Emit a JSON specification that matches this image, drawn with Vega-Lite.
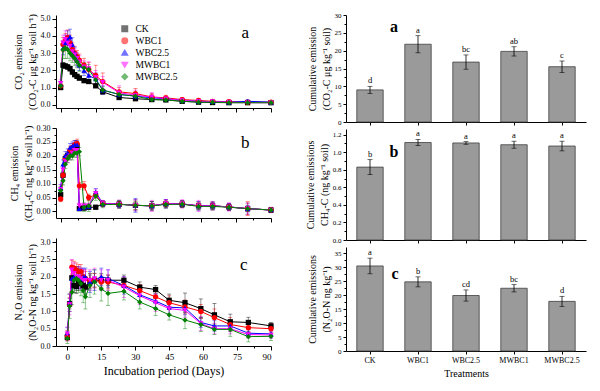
{
  "$schema": "https://vega.github.io/schema/vega-lite/v6.json",
  "background": "white",
  "padding": {"left": 9, "top": 11, "right": 5, "bottom": 5},
  "config": {
    "view": {"stroke": null},
    "font": "Liberation Serif",
    "axis": {"domainColor": "#000", "tickColor": "#000", "labelColor": "#000", "titleColor": "#000", "grid": false, "labelFont": "Liberation Serif", "titleFont": "Liberation Serif", "titleFontWeight": "normal", "labelFontSize": 8, "titleFontSize": 10, "titleLineHeight": 14, "tickSize": 3, "labelPadding": 2, "titlePadding": 3, "domainWidth": 1, "tickWidth": 1},
    "legend": {"labelFont": "Liberation Serif", "labelFontSize": 9.5, "labelColor": "#000", "symbolSize": 30, "rowPadding": 0, "padding": 0, "labelOffset": 6},
    "text": {"font": "Liberation Serif", "color": "#000", "fill": "#000"}
  },
  "datasets": {
    "co2": [
      {"t":"CK","d":0,"v":1.0,"e":0.1},{"t":"CK","d":1,"v":2.3,"e":0.15},{"t":"CK","d":2,"v":2.25,"e":0.15},{"t":"CK","d":3,"v":2.2,"e":0.15},{"t":"CK","d":4,"v":2.1,"e":0.15},{"t":"CK","d":5,"v":1.9,"e":0.15},{"t":"CK","d":6,"v":1.75,"e":0.12},{"t":"CK","d":7,"v":1.65,"e":0.12},{"t":"CK","d":8,"v":1.55,"e":0.12},{"t":"CK","d":10,"v":1.4,"e":0.1},{"t":"CK","d":12,"v":1.35,"e":0.1},{"t":"CK","d":15,"v":1.1,"e":0.1},{"t":"CK","d":18,"v":0.75,"e":0.08},{"t":"CK","d":25,"v":0.42,"e":0.06},{"t":"CK","d":32,"v":0.35,"e":0.05},{"t":"CK","d":39,"v":0.3,"e":0.05},{"t":"CK","d":45,"v":0.28,"e":0.04},{"t":"CK","d":52,"v":0.2,"e":0.04},{"t":"CK","d":59,"v":0.15,"e":0.03},{"t":"CK","d":65,"v":0.13,"e":0.03},{"t":"CK","d":72,"v":0.12,"e":0.03},{"t":"CK","d":80,"v":0.12,"e":0.03},{"t":"CK","d":90,"v":0.12,"e":0.03},
      {"t":"WBC1","d":0,"v":1.1,"e":0.15},{"t":"WBC1","d":1,"v":3.5,"e":0.4},{"t":"WBC1","d":2,"v":3.7,"e":0.45},{"t":"WBC1","d":3,"v":3.9,"e":0.45},{"t":"WBC1","d":4,"v":3.6,"e":0.45},{"t":"WBC1","d":5,"v":3.2,"e":0.4},{"t":"WBC1","d":6,"v":3.0,"e":0.4},{"t":"WBC1","d":7,"v":2.8,"e":0.35},{"t":"WBC1","d":8,"v":2.6,"e":0.35},{"t":"WBC1","d":10,"v":2.3,"e":0.4},{"t":"WBC1","d":12,"v":2.05,"e":0.4},{"t":"WBC1","d":15,"v":1.7,"e":0.6},{"t":"WBC1","d":18,"v":1.35,"e":0.5},{"t":"WBC1","d":25,"v":0.75,"e":0.25},{"t":"WBC1","d":32,"v":0.65,"e":0.3},{"t":"WBC1","d":39,"v":0.45,"e":0.2},{"t":"WBC1","d":45,"v":0.4,"e":0.15},{"t":"WBC1","d":52,"v":0.3,"e":0.12},{"t":"WBC1","d":59,"v":0.25,"e":0.1},{"t":"WBC1","d":65,"v":0.2,"e":0.08},{"t":"WBC1","d":72,"v":0.18,"e":0.08},{"t":"WBC1","d":80,"v":0.15,"e":0.08},{"t":"WBC1","d":90,"v":0.15,"e":0.06},
      {"t":"WBC2.5","d":0,"v":1.2,"e":0.15},{"t":"WBC2.5","d":1,"v":3.3,"e":0.4},{"t":"WBC2.5","d":2,"v":3.6,"e":0.45},{"t":"WBC2.5","d":3,"v":3.8,"e":0.5},{"t":"WBC2.5","d":4,"v":3.95,"e":0.45},{"t":"WBC2.5","d":5,"v":3.5,"e":0.4},{"t":"WBC2.5","d":6,"v":3.0,"e":0.35},{"t":"WBC2.5","d":7,"v":2.6,"e":0.35},{"t":"WBC2.5","d":8,"v":2.3,"e":0.3},{"t":"WBC2.5","d":10,"v":2.0,"e":0.3},{"t":"WBC2.5","d":12,"v":1.7,"e":0.3},{"t":"WBC2.5","d":15,"v":1.5,"e":0.35},{"t":"WBC2.5","d":18,"v":0.85,"e":0.25},{"t":"WBC2.5","d":25,"v":0.6,"e":0.2},{"t":"WBC2.5","d":32,"v":0.5,"e":0.15},{"t":"WBC2.5","d":39,"v":0.4,"e":0.12},{"t":"WBC2.5","d":45,"v":0.35,"e":0.12},{"t":"WBC2.5","d":52,"v":0.25,"e":0.1},{"t":"WBC2.5","d":59,"v":0.2,"e":0.08},{"t":"WBC2.5","d":65,"v":0.18,"e":0.08},{"t":"WBC2.5","d":72,"v":0.15,"e":0.06},{"t":"WBC2.5","d":80,"v":0.2,"e":0.1},{"t":"WBC2.5","d":90,"v":0.15,"e":0.1},
      {"t":"MWBC1","d":0,"v":1.25,"e":0.2},{"t":"MWBC1","d":1,"v":3.6,"e":0.45},{"t":"MWBC1","d":2,"v":3.8,"e":0.5},{"t":"MWBC1","d":3,"v":3.6,"e":0.45},{"t":"MWBC1","d":4,"v":3.4,"e":0.4},{"t":"MWBC1","d":5,"v":3.1,"e":0.4},{"t":"MWBC1","d":6,"v":2.9,"e":0.35},{"t":"MWBC1","d":7,"v":2.7,"e":0.35},{"t":"MWBC1","d":8,"v":2.5,"e":0.35},{"t":"MWBC1","d":10,"v":2.2,"e":0.35},{"t":"MWBC1","d":12,"v":2.1,"e":0.4},{"t":"MWBC1","d":15,"v":1.6,"e":0.4},{"t":"MWBC1","d":18,"v":1.3,"e":0.35},{"t":"MWBC1","d":25,"v":0.7,"e":0.4},{"t":"MWBC1","d":32,"v":0.55,"e":0.3},{"t":"MWBC1","d":39,"v":0.45,"e":0.25},{"t":"MWBC1","d":45,"v":0.35,"e":0.15},{"t":"MWBC1","d":52,"v":0.25,"e":0.15},{"t":"MWBC1","d":59,"v":0.2,"e":0.1},{"t":"MWBC1","d":65,"v":0.18,"e":0.08},{"t":"MWBC1","d":72,"v":0.15,"e":0.06},{"t":"MWBC1","d":80,"v":0.12,"e":0.05},{"t":"MWBC1","d":90,"v":0.12,"e":0.05},
      {"t":"MWBC2.5","d":0,"v":1.1,"e":0.2},{"t":"MWBC2.5","d":1,"v":3.2,"e":0.5},{"t":"MWBC2.5","d":2,"v":3.3,"e":0.6},{"t":"MWBC2.5","d":3,"v":3.2,"e":0.5},{"t":"MWBC2.5","d":4,"v":3.0,"e":0.45},{"t":"MWBC2.5","d":5,"v":2.85,"e":0.4},{"t":"MWBC2.5","d":6,"v":2.7,"e":0.4},{"t":"MWBC2.5","d":7,"v":2.5,"e":0.35},{"t":"MWBC2.5","d":8,"v":2.3,"e":0.35},{"t":"MWBC2.5","d":10,"v":2.15,"e":0.3},{"t":"MWBC2.5","d":12,"v":2.05,"e":0.3},{"t":"MWBC2.5","d":15,"v":1.45,"e":0.3},{"t":"MWBC2.5","d":18,"v":0.85,"e":0.2},{"t":"MWBC2.5","d":25,"v":0.6,"e":0.2},{"t":"MWBC2.5","d":32,"v":0.5,"e":0.15},{"t":"MWBC2.5","d":39,"v":0.3,"e":0.1},{"t":"MWBC2.5","d":45,"v":0.28,"e":0.1},{"t":"MWBC2.5","d":52,"v":0.2,"e":0.08},{"t":"MWBC2.5","d":59,"v":0.15,"e":0.06},{"t":"MWBC2.5","d":65,"v":0.15,"e":0.06},{"t":"MWBC2.5","d":72,"v":0.12,"e":0.05},{"t":"MWBC2.5","d":80,"v":0.12,"e":0.05},{"t":"MWBC2.5","d":90,"v":0.12,"e":0.05}
    ],
    "ch4": [
      {"t":"CK","d":0,"v":0.06,"e":0.015},{"t":"CK","d":1,"v":0.13,"e":0.015},{"t":"CK","d":2,"v":0.19,"e":0.012},{"t":"CK","d":3,"v":0.2,"e":0.012},{"t":"CK","d":4,"v":0.21,"e":0.012},{"t":"CK","d":5,"v":0.22,"e":0.012},{"t":"CK","d":6,"v":0.23,"e":0.012},{"t":"CK","d":7,"v":0.235,"e":0.012},{"t":"CK","d":8,"v":0.01,"e":0.005},{"t":"CK","d":10,"v":0.012,"e":0.005},{"t":"CK","d":12,"v":0.015,"e":0.006},{"t":"CK","d":15,"v":0.015,"e":0.005},{"t":"CK","d":18,"v":0.028,"e":0.01},{"t":"CK","d":25,"v":0.026,"e":0.012},{"t":"CK","d":32,"v":0.022,"e":0.02},{"t":"CK","d":39,"v":0.02,"e":0.015},{"t":"CK","d":45,"v":0.027,"e":0.015},{"t":"CK","d":52,"v":0.026,"e":0.012},{"t":"CK","d":59,"v":0.02,"e":0.015},{"t":"CK","d":65,"v":0.02,"e":0.015},{"t":"CK","d":72,"v":0.016,"e":0.012},{"t":"CK","d":80,"v":0.01,"e":0.02},{"t":"CK","d":90,"v":0.005,"e":0.008},
      {"t":"WBC1","d":0,"v":0.045,"e":0.01},{"t":"WBC1","d":1,"v":0.13,"e":0.015},{"t":"WBC1","d":2,"v":0.19,"e":0.015},{"t":"WBC1","d":3,"v":0.2,"e":0.015},{"t":"WBC1","d":4,"v":0.22,"e":0.015},{"t":"WBC1","d":5,"v":0.23,"e":0.015},{"t":"WBC1","d":6,"v":0.24,"e":0.015},{"t":"WBC1","d":7,"v":0.245,"e":0.015},{"t":"WBC1","d":8,"v":0.092,"e":0.012},{"t":"WBC1","d":10,"v":0.092,"e":0.015},{"t":"WBC1","d":12,"v":0.05,"e":0.012},{"t":"WBC1","d":15,"v":0.06,"e":0.012},{"t":"WBC1","d":18,"v":0.028,"e":0.01},{"t":"WBC1","d":25,"v":0.026,"e":0.01},{"t":"WBC1","d":32,"v":0.022,"e":0.015},{"t":"WBC1","d":39,"v":0.02,"e":0.015},{"t":"WBC1","d":45,"v":0.028,"e":0.012},{"t":"WBC1","d":52,"v":0.027,"e":0.012},{"t":"WBC1","d":59,"v":0.02,"e":0.012},{"t":"WBC1","d":65,"v":0.02,"e":0.012},{"t":"WBC1","d":72,"v":0.016,"e":0.012},{"t":"WBC1","d":80,"v":0.01,"e":0.025},{"t":"WBC1","d":90,"v":0.005,"e":0.008},
      {"t":"WBC2.5","d":0,"v":0.085,"e":0.012},{"t":"WBC2.5","d":1,"v":0.17,"e":0.015},{"t":"WBC2.5","d":2,"v":0.2,"e":0.015},{"t":"WBC2.5","d":3,"v":0.21,"e":0.015},{"t":"WBC2.5","d":4,"v":0.23,"e":0.015},{"t":"WBC2.5","d":5,"v":0.235,"e":0.015},{"t":"WBC2.5","d":6,"v":0.24,"e":0.015},{"t":"WBC2.5","d":7,"v":0.24,"e":0.015},{"t":"WBC2.5","d":8,"v":0.01,"e":0.006},{"t":"WBC2.5","d":10,"v":0.015,"e":0.006},{"t":"WBC2.5","d":12,"v":0.018,"e":0.008},{"t":"WBC2.5","d":15,"v":0.07,"e":0.012},{"t":"WBC2.5","d":18,"v":0.028,"e":0.01},{"t":"WBC2.5","d":25,"v":0.026,"e":0.012},{"t":"WBC2.5","d":32,"v":0.022,"e":0.025},{"t":"WBC2.5","d":39,"v":0.02,"e":0.015},{"t":"WBC2.5","d":45,"v":0.028,"e":0.015},{"t":"WBC2.5","d":52,"v":0.027,"e":0.012},{"t":"WBC2.5","d":59,"v":0.02,"e":0.015},{"t":"WBC2.5","d":65,"v":0.02,"e":0.012},{"t":"WBC2.5","d":72,"v":0.016,"e":0.012},{"t":"WBC2.5","d":80,"v":0.01,"e":0.012},{"t":"WBC2.5","d":90,"v":0.005,"e":0.008},
      {"t":"MWBC1","d":0,"v":0.08,"e":0.015},{"t":"MWBC1","d":1,"v":0.15,"e":0.015},{"t":"MWBC1","d":2,"v":0.18,"e":0.015},{"t":"MWBC1","d":3,"v":0.19,"e":0.015},{"t":"MWBC1","d":4,"v":0.2,"e":0.015},{"t":"MWBC1","d":5,"v":0.21,"e":0.015},{"t":"MWBC1","d":6,"v":0.22,"e":0.015},{"t":"MWBC1","d":7,"v":0.22,"e":0.015},{"t":"MWBC1","d":8,"v":0.02,"e":0.01},{"t":"MWBC1","d":10,"v":0.02,"e":0.01},{"t":"MWBC1","d":12,"v":0.02,"e":0.01},{"t":"MWBC1","d":15,"v":0.065,"e":0.015},{"t":"MWBC1","d":18,"v":0.028,"e":0.012},{"t":"MWBC1","d":25,"v":0.026,"e":0.015},{"t":"MWBC1","d":32,"v":0.022,"e":0.02},{"t":"MWBC1","d":39,"v":0.02,"e":0.02},{"t":"MWBC1","d":45,"v":0.028,"e":0.015},{"t":"MWBC1","d":52,"v":0.027,"e":0.015},{"t":"MWBC1","d":59,"v":0.02,"e":0.02},{"t":"MWBC1","d":65,"v":0.02,"e":0.015},{"t":"MWBC1","d":72,"v":0.016,"e":0.015},{"t":"MWBC1","d":80,"v":0.01,"e":0.02},{"t":"MWBC1","d":90,"v":0.005,"e":0.01},
      {"t":"MWBC2.5","d":0,"v":0.075,"e":0.015},{"t":"MWBC2.5","d":1,"v":0.11,"e":0.015},{"t":"MWBC2.5","d":2,"v":0.17,"e":0.015},{"t":"MWBC2.5","d":3,"v":0.19,"e":0.015},{"t":"MWBC2.5","d":4,"v":0.2,"e":0.015},{"t":"MWBC2.5","d":5,"v":0.2,"e":0.015},{"t":"MWBC2.5","d":6,"v":0.21,"e":0.015},{"t":"MWBC2.5","d":7,"v":0.21,"e":0.015},{"t":"MWBC2.5","d":8,"v":0.215,"e":0.015},{"t":"MWBC2.5","d":10,"v":0.015,"e":0.015},{"t":"MWBC2.5","d":12,"v":0.02,"e":0.02},{"t":"MWBC2.5","d":15,"v":0.055,"e":0.015},{"t":"MWBC2.5","d":18,"v":0.025,"e":0.012},{"t":"MWBC2.5","d":25,"v":0.025,"e":0.015},{"t":"MWBC2.5","d":32,"v":0.022,"e":0.015},{"t":"MWBC2.5","d":39,"v":0.02,"e":0.015},{"t":"MWBC2.5","d":45,"v":0.025,"e":0.012},{"t":"MWBC2.5","d":52,"v":0.026,"e":0.012},{"t":"MWBC2.5","d":59,"v":0.018,"e":0.012},{"t":"MWBC2.5","d":65,"v":0.018,"e":0.012},{"t":"MWBC2.5","d":72,"v":0.015,"e":0.01},{"t":"MWBC2.5","d":80,"v":0.01,"e":0.01},{"t":"MWBC2.5","d":90,"v":0.005,"e":0.008}
    ],
    "n2o": [
      {"t":"CK","d":0,"v":0.25,"e":0.1},{"t":"CK","d":1,"v":1.22,"e":0.15},{"t":"CK","d":2,"v":1.97,"e":0.2},{"t":"CK","d":3,"v":1.75,"e":0.2},{"t":"CK","d":4,"v":1.72,"e":0.2},{"t":"CK","d":5,"v":1.8,"e":0.2},{"t":"CK","d":6,"v":1.85,"e":0.2},{"t":"CK","d":7,"v":1.75,"e":0.2},{"t":"CK","d":8,"v":1.7,"e":0.2},{"t":"CK","d":10,"v":1.85,"e":0.2},{"t":"CK","d":12,"v":1.9,"e":0.2},{"t":"CK","d":15,"v":1.9,"e":0.2},{"t":"CK","d":18,"v":1.9,"e":0.15},{"t":"CK","d":25,"v":1.9,"e":0.15},{"t":"CK","d":32,"v":1.7,"e":0.15},{"t":"CK","d":39,"v":1.63,"e":0.12},{"t":"CK","d":45,"v":1.32,"e":0.18},{"t":"CK","d":52,"v":1.25,"e":0.28},{"t":"CK","d":59,"v":1.08,"e":0.28},{"t":"CK","d":65,"v":0.9,"e":0.33},{"t":"CK","d":72,"v":0.7,"e":0.22},{"t":"CK","d":80,"v":0.68,"e":0.15},{"t":"CK","d":90,"v":0.58,"e":0.1},
      {"t":"WBC1","d":0,"v":0.3,"e":0.15},{"t":"WBC1","d":1,"v":1.2,"e":0.2},{"t":"WBC1","d":2,"v":2.28,"e":0.2},{"t":"WBC1","d":3,"v":2.25,"e":0.2},{"t":"WBC1","d":4,"v":2.2,"e":0.2},{"t":"WBC1","d":5,"v":2.15,"e":0.2},{"t":"WBC1","d":6,"v":2.15,"e":0.2},{"t":"WBC1","d":7,"v":2.0,"e":0.2},{"t":"WBC1","d":8,"v":1.95,"e":0.2},{"t":"WBC1","d":10,"v":1.9,"e":0.2},{"t":"WBC1","d":12,"v":1.9,"e":0.2},{"t":"WBC1","d":15,"v":1.85,"e":0.2},{"t":"WBC1","d":18,"v":1.85,"e":0.2},{"t":"WBC1","d":25,"v":1.75,"e":0.15},{"t":"WBC1","d":32,"v":1.6,"e":0.18},{"t":"WBC1","d":39,"v":1.42,"e":0.2},{"t":"WBC1","d":45,"v":1.25,"e":0.2},{"t":"WBC1","d":52,"v":1.13,"e":0.2},{"t":"WBC1","d":59,"v":1.0,"e":0.2},{"t":"WBC1","d":65,"v":0.82,"e":0.25},{"t":"WBC1","d":72,"v":0.62,"e":0.2},{"t":"WBC1","d":80,"v":0.53,"e":0.15},{"t":"WBC1","d":90,"v":0.5,"e":0.15},
      {"t":"WBC2.5","d":0,"v":0.38,"e":0.15},{"t":"WBC2.5","d":1,"v":1.25,"e":0.25},{"t":"WBC2.5","d":2,"v":1.95,"e":0.3},{"t":"WBC2.5","d":3,"v":2.0,"e":0.3},{"t":"WBC2.5","d":4,"v":1.95,"e":0.3},{"t":"WBC2.5","d":5,"v":2.0,"e":0.3},{"t":"WBC2.5","d":6,"v":1.95,"e":0.3},{"t":"WBC2.5","d":7,"v":2.0,"e":0.25},{"t":"WBC2.5","d":8,"v":2.0,"e":0.25},{"t":"WBC2.5","d":10,"v":1.85,"e":0.3},{"t":"WBC2.5","d":12,"v":1.9,"e":0.3},{"t":"WBC2.5","d":15,"v":2.0,"e":0.25},{"t":"WBC2.5","d":18,"v":1.95,"e":0.25},{"t":"WBC2.5","d":25,"v":1.75,"e":0.25},{"t":"WBC2.5","d":32,"v":1.48,"e":0.2},{"t":"WBC2.5","d":39,"v":1.3,"e":0.2},{"t":"WBC2.5","d":45,"v":1.12,"e":0.2},{"t":"WBC2.5","d":52,"v":1.1,"e":0.2},{"t":"WBC2.5","d":59,"v":0.68,"e":0.15},{"t":"WBC2.5","d":65,"v":0.58,"e":0.15},{"t":"WBC2.5","d":72,"v":0.58,"e":0.15},{"t":"WBC2.5","d":80,"v":0.37,"e":0.1},{"t":"WBC2.5","d":90,"v":0.35,"e":0.1},
      {"t":"MWBC1","d":0,"v":0.35,"e":0.2},{"t":"MWBC1","d":1,"v":1.2,"e":0.3},{"t":"MWBC1","d":2,"v":2.2,"e":0.3},{"t":"MWBC1","d":3,"v":2.1,"e":0.3},{"t":"MWBC1","d":4,"v":2.0,"e":0.3},{"t":"MWBC1","d":5,"v":2.0,"e":0.3},{"t":"MWBC1","d":6,"v":1.95,"e":0.3},{"t":"MWBC1","d":7,"v":1.9,"e":0.3},{"t":"MWBC1","d":8,"v":1.9,"e":0.3},{"t":"MWBC1","d":10,"v":1.9,"e":0.3},{"t":"MWBC1","d":12,"v":1.95,"e":0.3},{"t":"MWBC1","d":15,"v":1.9,"e":0.3},{"t":"MWBC1","d":18,"v":1.9,"e":0.3},{"t":"MWBC1","d":25,"v":1.7,"e":0.3},{"t":"MWBC1","d":32,"v":1.45,"e":0.25},{"t":"MWBC1","d":39,"v":1.25,"e":0.25},{"t":"MWBC1","d":45,"v":1.08,"e":0.2},{"t":"MWBC1","d":52,"v":1.03,"e":0.2},{"t":"MWBC1","d":59,"v":0.65,"e":0.2},{"t":"MWBC1","d":65,"v":0.5,"e":0.15},{"t":"MWBC1","d":72,"v":0.5,"e":0.15},{"t":"MWBC1","d":80,"v":0.33,"e":0.1},{"t":"MWBC1","d":90,"v":0.32,"e":0.1},
      {"t":"MWBC2.5","d":0,"v":0.22,"e":0.15},{"t":"MWBC2.5","d":1,"v":1.15,"e":0.35},{"t":"MWBC2.5","d":2,"v":1.55,"e":0.35},{"t":"MWBC2.5","d":3,"v":1.9,"e":0.35},{"t":"MWBC2.5","d":4,"v":1.95,"e":0.35},{"t":"MWBC2.5","d":5,"v":1.9,"e":0.35},{"t":"MWBC2.5","d":6,"v":1.8,"e":0.35},{"t":"MWBC2.5","d":7,"v":1.6,"e":0.35},{"t":"MWBC2.5","d":8,"v":1.42,"e":0.35},{"t":"MWBC2.5","d":10,"v":1.75,"e":0.35},{"t":"MWBC2.5","d":12,"v":1.85,"e":0.35},{"t":"MWBC2.5","d":15,"v":1.65,"e":0.35},{"t":"MWBC2.5","d":18,"v":1.52,"e":0.35},{"t":"MWBC2.5","d":25,"v":1.58,"e":0.25},{"t":"MWBC2.5","d":32,"v":1.27,"e":0.2},{"t":"MWBC2.5","d":39,"v":1.08,"e":0.2},{"t":"MWBC2.5","d":45,"v":0.9,"e":0.15},{"t":"MWBC2.5","d":52,"v":0.75,"e":0.25},{"t":"MWBC2.5","d":59,"v":0.62,"e":0.2},{"t":"MWBC2.5","d":65,"v":0.48,"e":0.15},{"t":"MWBC2.5","d":72,"v":0.48,"e":0.2},{"t":"MWBC2.5","d":80,"v":0.27,"e":0.15},{"t":"MWBC2.5","d":90,"v":0.28,"e":0.12}
    ],
    "bco2": [
      {"t":"CK","v":9.0,"e":1.0,"l":"d"},{"t":"WBC1","v":21.8,"e":2.4,"l":"a"},{"t":"WBC2.5","v":16.8,"e":2.0,"l":"bc"},{"t":"MWBC1","v":19.8,"e":1.3,"l":"ab"},{"t":"MWBC2.5","v":15.5,"e":1.6,"l":"c"}
    ],
    "bch4": [
      {"t":"CK","v":0.83,"e":0.085,"l":"b"},{"t":"WBC1","v":1.11,"e":0.035,"l":"a"},{"t":"WBC2.5","v":1.105,"e":0.015,"l":"a"},{"t":"MWBC1","v":1.085,"e":0.04,"l":"a"},{"t":"MWBC2.5","v":1.07,"e":0.055,"l":"a"}
    ],
    "bn2o": [
      {"t":"CK","v":30.5,"e":2.8,"l":"a"},{"t":"WBC1","v":24.8,"e":1.8,"l":"b"},{"t":"WBC2.5","v":19.9,"e":2.0,"l":"cd"},{"t":"MWBC1","v":22.5,"e":1.3,"l":"bc"},{"t":"MWBC2.5","v":17.8,"e":1.8,"l":"d"}
    ]
  },
  "resolve": {"scale": {"color": "independent", "shape": "independent"}, "legend": {"color": "independent", "shape": "independent"}},
  "spacing": 31,
  "hconcat": [
    {
      "vconcat": [
        {
          "width": 215, "height": 93,
          "data": {"name": "co2"},
          "encoding": {
            "x": {"field": "d", "type": "quantitative", "scale": {"domain": [-2, 90], "nice": false, "zero": false}, "axis": {"values": [0,7.5,15,22.5,30,37.5,45,52.5,60,67.5,75,82.5,90], "labels": false, "title": null, "tickSize": {"condition": {"test": "datum.value % 15 !== 0", "value": 2}, "value": 4}}},
            "y": {"field": "v", "type": "quantitative", "scale": {"domain": [-0.19, 5.22], "nice": false, "zero": false}, "axis": {"values": [0,0.5,1,1.5,2,2.5,3,3.5,4,4.5,5], "labelExpr": "datum.value % 1 === 0 ? datum.label : ''", "tickSize": {"condition": {"test": "datum.value % 1 !== 0", "value": 2}, "value": 4}, "title": ["CO₂ emission", "(CO₂-C μg kg⁻¹ soil h⁻¹)"]}},
            "color": {"field": "t", "type": "nominal", "scale": {"domain": ["CK","WBC1","WBC2.5","MWBC1","MWBC2.5"], "range": ["#000000","#ff0000","#0000ff","#ff00ff","#008000"]}, "legend": {"orient": "none", "legendX": 64, "legendY": 9, "title": null}}
          },
          "layer": [
            {"mark": {"type": "errorbar", "ticks": true, "size": 4, "thickness": 0.8, "opacity": 0.55}, "encoding": {"yError": {"field": "e"}}},
            {"mark": {"type": "line", "strokeWidth": 1}},
            {"mark": {"type": "point", "filled": true, "size": 28, "opacity": 1}, "encoding": {"shape": {"field": "t", "type": "nominal", "scale": {"domain": ["CK","WBC1","WBC2.5","MWBC1","MWBC2.5"], "range": ["square","circle","triangle-up","triangle-down","diamond"]}, "legend": {"orient": "none", "legendX": 64, "legendY": 9, "title": null}}}},
            {"data": {"values": [{"d": 79, "v": 4.2, "lab": "a"}]}, "mark": {"type": "text", "fontSize": 17, "baseline": "middle", "color": "#000", "fill": "#000"}, "encoding": {"text": {"field": "lab"}, "color": {"value": "#000"}}}
          ]
        },
        {
          "width": 215, "height": 90,
          "data": {"name": "ch4"},
          "encoding": {
            "x": {"field": "d", "type": "quantitative", "scale": {"domain": [-2, 90], "nice": false, "zero": false}, "axis": {"values": [0,7.5,15,22.5,30,37.5,45,52.5,60,67.5,75,82.5,90], "labels": false, "title": null, "tickSize": {"condition": {"test": "datum.value % 15 !== 0", "value": 2}, "value": 4}}},
            "y": {"field": "v", "type": "quantitative", "scale": {"domain": [-0.0237, 0.30], "nice": false, "zero": false}, "axis": {"values": [0,0.025,0.05,0.075,0.1,0.125,0.15,0.175,0.2,0.225,0.25,0.275,0.3], "format": ".2f", "labelExpr": "round(datum.value*1000) % 50 === 0 ? datum.label : ''", "tickSize": {"condition": {"test": "round(datum.value*1000) % 50 !== 0", "value": 2}, "value": 4}, "title": ["CH₄ emission", "(CH₄-C ng kg⁻¹ soil h⁻¹)"]}},
            "color": {"field": "t", "type": "nominal", "scale": {"domain": ["CK","WBC1","WBC2.5","MWBC1","MWBC2.5"], "range": ["#000000","#ff0000","#0000ff","#ff00ff","#008000"]}, "legend": null}
          },
          "layer": [
            {"mark": {"type": "errorbar", "ticks": true, "size": 4, "thickness": 0.8, "opacity": 0.55}, "encoding": {"yError": {"field": "e"}}},
            {"mark": {"type": "line", "strokeWidth": 1}},
            {"mark": {"type": "point", "filled": true, "size": 28, "opacity": 1}, "encoding": {"shape": {"field": "t", "type": "nominal", "scale": {"domain": ["CK","WBC1","WBC2.5","MWBC1","MWBC2.5"], "range": ["square","circle","triangle-up","triangle-down","diamond"]}, "legend": null}}},
            {"data": {"values": [{"d": 79, "v": 0.247, "lab": "b"}]}, "mark": {"type": "text", "fontSize": 17, "baseline": "middle", "color": "#000", "fill": "#000"}, "encoding": {"text": {"field": "lab"}, "color": {"value": "#000"}}}
          ]
        },
        {
          "width": 215, "height": 108,
          "data": {"name": "n2o"},
          "encoding": {
            "x": {"field": "d", "type": "quantitative", "scale": {"domain": [-5, 90], "nice": false, "zero": false}, "axis": {"values": [0,7.5,15,22.5,30,37.5,45,52.5,60,67.5,75,82.5,90], "labelExpr": "datum.value % 15 === 0 ? datum.label : ''", "labelFontSize": 9, "titleFontSize": 12, "titlePadding": 4, "tickSize": {"condition": {"test": "datum.value % 15 !== 0", "value": 2}, "value": 4}, "title": "Incubation period (Days)"}},
            "y": {"field": "v", "type": "quantitative", "scale": {"domain": [0, 3.12], "nice": false, "zero": false}, "axis": {"values": [0,0.25,0.5,0.75,1,1.25,1.5,1.75,2,2.25,2.5,2.75,3], "format": ".1f", "labelExpr": "datum.value % 0.5 === 0 ? datum.label : ''", "tickSize": {"condition": {"test": "datum.value % 0.5 !== 0", "value": 2}, "value": 4}, "title": ["N₂O emission", "(N₂O-N ng kg⁻¹ soil h⁻¹)"]}},
            "color": {"field": "t", "type": "nominal", "scale": {"domain": ["CK","WBC1","WBC2.5","MWBC1","MWBC2.5"], "range": ["#000000","#ff0000","#0000ff","#ff00ff","#008000"]}, "legend": null}
          },
          "layer": [
            {"mark": {"type": "errorbar", "ticks": true, "size": 4, "thickness": 0.8, "opacity": 0.55}, "encoding": {"yError": {"field": "e"}}},
            {"mark": {"type": "line", "strokeWidth": 1}},
            {"mark": {"type": "point", "filled": true, "size": 28, "opacity": 1}, "encoding": {"shape": {"field": "t", "type": "nominal", "scale": {"domain": ["CK","WBC1","WBC2.5","MWBC1","MWBC2.5"], "range": ["square","circle","triangle-up","triangle-down","diamond"]}, "legend": null}}},
            {"data": {"values": [{"d": 78, "v": 2.34, "lab": "c"}]}, "mark": {"type": "text", "fontSize": 17, "baseline": "middle", "color": "#000", "fill": "#000"}, "encoding": {"text": {"field": "lab"}, "color": {"value": "#000"}}}
          ]
        }
      ],
      "spacing": 20,
      "bounds": "flush",
      "resolve": {"scale": {"color": "independent", "shape": "independent"}, "legend": {"color": "independent", "shape": "independent"}}
    },
    {
      "vconcat": [
        {
          "width": 240, "height": 107,
          "data": {"name": "bco2"},
          "encoding": {
            "x": {"field": "t", "type": "nominal", "sort": null, "scale": {"domain": ["CK","WBC1","WBC2.5","MWBC1","MWBC2.5"], "paddingInner": 0.45, "paddingOuter": 0.225}, "axis": {"labels": false, "title": null, "tickSize": 3}},
            "y": {"field": "v", "type": "quantitative", "scale": {"domain": [0, 30], "nice": false}, "axis": {"values": [0,2.5,5,7.5,10,12.5,15,17.5,20,22.5,25,27.5,30], "labelExpr": "datum.value % 5 === 0 ? datum.label : ''", "labelFontSize": 7, "tickSize": {"condition": {"test": "datum.value % 5 !== 0", "value": 2}, "value": 3}, "title": ["Cumulative emission", "(CO₂-C μg kg⁻¹ soil)"]}}
          },
          "layer": [
            {"mark": {"type": "bar", "fill": "#9a9a9a", "stroke": "#404040", "strokeWidth": 0.8}},
            {"mark": {"type": "errorbar", "ticks": true, "size": 5, "thickness": 0.8, "color": "#000"}, "encoding": {"yError": {"field": "e"}}},
            {"transform": [{"calculate": "datum.v + datum.e", "as": "hi"}], "mark": {"type": "text", "dy": -6, "fontSize": 8.5, "color": "#000", "fill": "#000"}, "encoding": {"y": {"field": "hi", "type": "quantitative", "title": ["Cumulative emission", "(CO₂-C μg kg⁻¹ soil)"]}, "text": {"field": "l"}, "color": {"value": "#000"}}},
            {"data": {"values": [{"t": "CK", "v": 26.7, "lab": "a"}]}, "mark": {"type": "text", "dx": 24, "fontSize": 16, "fontWeight": "bold", "baseline": "middle", "color": "#000", "fill": "#000"}, "encoding": {"text": {"field": "lab"}}}
          ]
        },
        {
          "width": 240, "height": 111,
          "data": {"name": "bch4"},
          "encoding": {
            "x": {"field": "t", "type": "nominal", "sort": null, "scale": {"domain": ["CK","WBC1","WBC2.5","MWBC1","MWBC2.5"], "paddingInner": 0.45, "paddingOuter": 0.225}, "axis": {"labels": false, "title": null, "tickSize": 3}},
            "y": {"field": "v", "type": "quantitative", "scale": {"domain": [0, 1.264], "nice": false}, "axis": {"values": [0,0.1,0.2,0.3,0.4,0.5,0.6,0.7,0.8,0.9,1.0,1.1,1.2], "format": ".1f", "labelExpr": "round(datum.value*10) % 2 === 0 ? datum.label : ''", "labelFontSize": 7, "tickSize": {"condition": {"test": "round(datum.value*10) % 2 !== 0", "value": 2}, "value": 3}, "title": ["Cumulative emissions", "CH₄-C (ng kg⁻¹ soil)"]}}
          },
          "layer": [
            {"mark": {"type": "bar", "fill": "#9a9a9a", "stroke": "#404040", "strokeWidth": 0.8}},
            {"mark": {"type": "errorbar", "ticks": true, "size": 5, "thickness": 0.8, "color": "#000"}, "encoding": {"yError": {"field": "e"}}},
            {"transform": [{"calculate": "datum.v + datum.e", "as": "hi"}], "mark": {"type": "text", "dy": -6, "fontSize": 8.5, "color": "#000", "fill": "#000"}, "encoding": {"y": {"field": "hi", "type": "quantitative", "title": ["Cumulative emissions", "CH₄-C (ng kg⁻¹ soil)"]}, "text": {"field": "l"}, "color": {"value": "#000"}}},
            {"data": {"values": [{"t": "CK", "v": 1.0, "lab": "b"}]}, "mark": {"type": "text", "dx": 24, "fontSize": 16, "fontWeight": "bold", "baseline": "middle", "color": "#000", "fill": "#000"}, "encoding": {"text": {"field": "lab"}}}
          ]
        },
        {
          "width": 240, "height": 104,
          "data": {"name": "bn2o"},
          "encoding": {
            "x": {"field": "t", "type": "nominal", "sort": null, "scale": {"domain": ["CK","WBC1","WBC2.5","MWBC1","MWBC2.5"], "paddingInner": 0.45, "paddingOuter": 0.225}, "axis": {"labelAngle": 0, "labelFontSize": 8, "titleFontSize": 10, "titlePadding": 4, "tickSize": 3, "title": "Treatments"}},
            "y": {"field": "v", "type": "quantitative", "scale": {"domain": [0, 37.3], "nice": false}, "axis": {"values": [0,2.5,5,7.5,10,12.5,15,17.5,20,22.5,25,27.5,30,32.5,35], "labelExpr": "datum.value % 5 === 0 ? datum.label : ''", "labelFontSize": 7, "tickSize": {"condition": {"test": "datum.value % 5 !== 0", "value": 2}, "value": 3}, "title": ["Cumulative emissions", "(N₂O-N ng kg⁻¹)"]}}
          },
          "layer": [
            {"mark": {"type": "bar", "fill": "#9a9a9a", "stroke": "#404040", "strokeWidth": 0.8}},
            {"mark": {"type": "errorbar", "ticks": true, "size": 5, "thickness": 0.8, "color": "#000"}, "encoding": {"yError": {"field": "e"}}},
            {"transform": [{"calculate": "datum.v + datum.e", "as": "hi"}], "mark": {"type": "text", "dy": -6, "fontSize": 8.5, "color": "#000", "fill": "#000"}, "encoding": {"y": {"field": "hi", "type": "quantitative", "title": ["Cumulative emissions", "(N₂O-N ng kg⁻¹)"]}, "text": {"field": "l"}, "color": {"value": "#000"}}},
            {"data": {"values": [{"t": "CK", "v": 27.5, "lab": "c"}]}, "mark": {"type": "text", "dx": 25, "fontSize": 16, "fontWeight": "bold", "baseline": "middle", "color": "#000", "fill": "#000"}, "encoding": {"text": {"field": "lab"}}}
          ]
        }
      ],
      "spacing": 7,
      "bounds": "flush"
    }
  ]
}
